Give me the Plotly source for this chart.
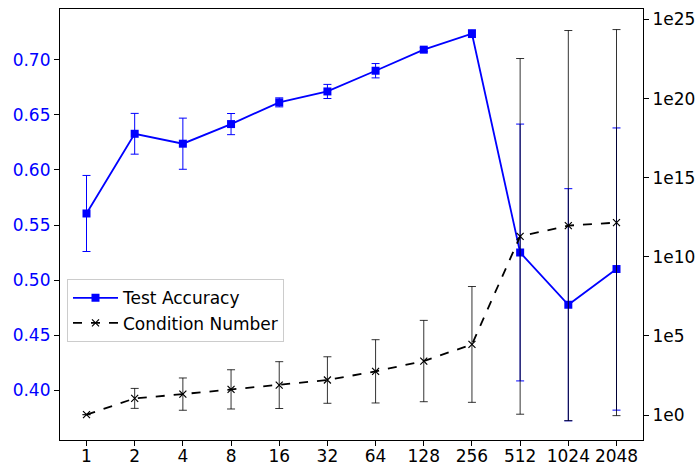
import math
import plotly.graph_objects as go

batch_sizes = [1, 2, 4, 8, 16, 32, 64, 128, 256, 512, 1024, 2048]
tick_labels = ["1", "2", "4", "8", "16", "32", "64", "128", "256", "512", "1024", "2048"]

acc_mean = [0.5605, 0.6328, 0.6238, 0.6416, 0.6613, 0.6712, 0.6900, 0.7091, 0.7236, 0.5251, 0.4777, 0.5101]
acc_err = [0.0345, 0.0185, 0.0232, 0.0096, 0.0041, 0.0064, 0.0065, 0.0018, 0.0035, 0.1165, 0.1053, 0.1280]

cond_log10 = [0.02, 1.05, 1.32, 1.62, 1.89, 2.21, 2.76, 3.41, 4.46, 11.29, 11.97, 12.16]
cond_log10_err = [0.0, 0.63, 1.02, 1.24, 1.48, 1.47, 2.0, 2.57, 3.66, 11.24, 12.33, 12.2]

right_tickvals = [0, 5, 10, 15, 20, 25]
right_ticktext = ["1e0", "1e5", "1e10", "1e15", "1e20", "1e25"]
left_tickvals = [0.40, 0.45, 0.50, 0.55, 0.60, 0.65, 0.70]
left_ticktext = ["0.40", "0.45", "0.50", "0.55", "0.60", "0.65", "0.70"]

FONT = "DejaVu Sans"
BLUE = "#0000ff"

fig = go.Figure()
fig.add_trace(go.Scatter(
    x=batch_sizes, y=acc_mean, name="Test Accuracy", mode="lines+markers",
    line=dict(color=BLUE, width=1.8),
    marker=dict(symbol="square", size=8, color=BLUE),
    error_y=dict(type="data", array=acc_err, visible=True, color=BLUE, thickness=1, width=4),
    xaxis="x", yaxis="y",
))
fig.add_trace(go.Scatter(
    x=batch_sizes, y=cond_log10, name="Condition Number", mode="lines+markers",
    line=dict(color="black", width=1.8, dash="dash"),
    marker=dict(symbol="x-thin", size=7, color="black", line=dict(color="black", width=1.2)),
    error_y=dict(type="data", array=cond_log10_err, visible=True, color="rgba(0,0,0,0.8)", thickness=1, width=4),
    xaxis="x2", yaxis="y2",
))

lo = math.log10(2) * -0.55
hi = math.log10(2) * 11.55

fig.update_layout(
    width=698, height=466,
    margin=dict(l=60, r=55, t=9, b=26, autoexpand=False),
    plot_bgcolor="white", paper_bgcolor="white",
    font=dict(family=FONT, size=17, color="black"),
    showlegend=True,
    legend=dict(x=0.012, y=0.373, xanchor="left", yanchor="top",
                bgcolor="white", bordercolor="#cccccc", borderwidth=1,
                font=dict(family=FONT, size=17, color="black"),
                itemwidth=45, tracegroupgap=0),
    # labelled x axis (no tick marks so the labels sit close to the frame)
    xaxis=dict(type="log", range=[lo, hi], tickvals=batch_sizes, ticktext=tick_labels,
               showgrid=False, zeroline=False, showline=True, linecolor="black", linewidth=1.2,
               mirror=True, ticks="", automargin=False,
               tickfont=dict(family=FONT, size=17, color="black")),
    # overlay x axis that draws the outside tick marks
    xaxis2=dict(type="log", range=[lo, hi], tickvals=batch_sizes, overlaying="x", anchor="y2",
                side="bottom", showticklabels=False, showgrid=False, zeroline=False,
                showline=False, ticks="outside", ticklen=5, tickcolor="black", automargin=False),
    yaxis=dict(range=[0.355, 0.746], tickvals=left_tickvals, ticktext=left_ticktext,
               showgrid=False, zeroline=False, showline=True, linecolor="black", linewidth=1.2,
               mirror=True, ticks="outside", ticklen=5, tickcolor="black", automargin=False,
               tickfont=dict(family=FONT, size=17, color=BLUE)),
    yaxis2=dict(range=[-1.58, 25.66], tickvals=right_tickvals, ticktext=right_ticktext,
                overlaying="y", side="right", anchor="x2", showgrid=False, zeroline=False,
                showline=False, ticks="outside", ticklen=5, tickcolor="black", automargin=False,
                tickfont=dict(family=FONT, size=17, color="black")),
)

fig.write_html("out.html")
